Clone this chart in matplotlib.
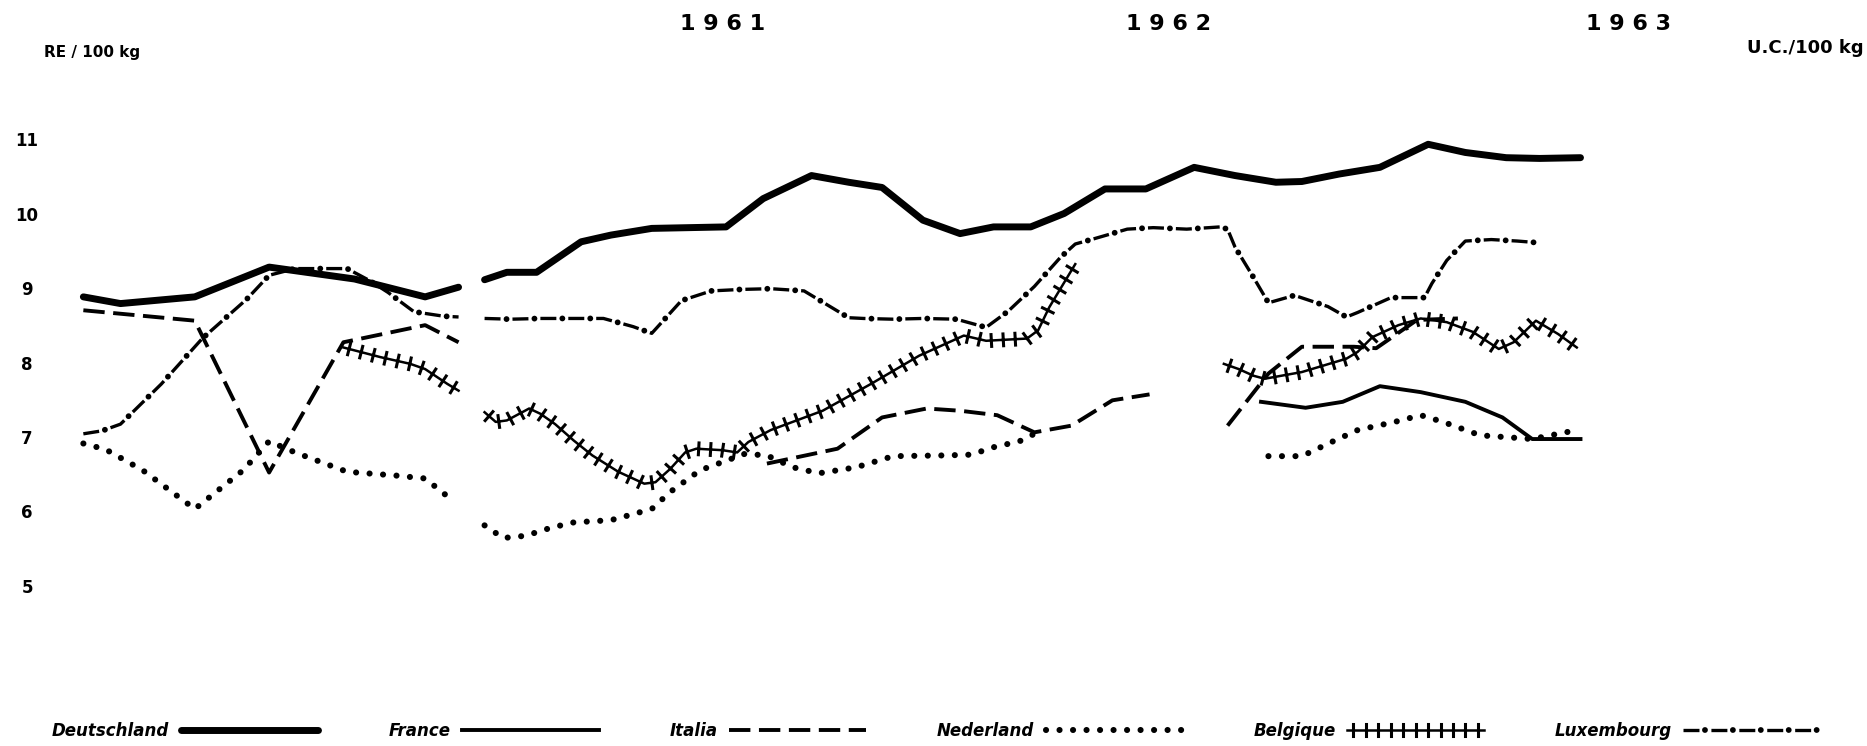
import numpy as np
import matplotlib
matplotlib.use("Agg")
import matplotlib.pyplot as plt
import matplotlib.patheffects as pe
import matplotlib.transforms as mtransforms
from matplotlib.legend_handler import HandlerTuple

nan = np.nan

# months counted from the first observation, values in RE (U.C.) per 100 kg
de_month = [0.0, 1.0, 3.0, 5.0, 7.3, 9.2, 10.1, nan,
            10.8, 11.4, 12.2, 13.4, 14.2, 15.3, 17.3, 18.3, 19.6, 20.6, 21.5, 22.6,
            23.6, 24.5, 25.5, 26.4, 27.5, 28.6, 29.9, 31.0, 32.1, 32.8, 33.8, 34.9,
            36.2, 37.2, 38.3, 39.2, 40.3]
de_value = [8.91, 8.82, 8.91, 9.31, 9.15, 8.91, 9.04, nan,
            9.14, 9.24, 9.24, 9.65, 9.74, 9.83, 9.85, 10.23, 10.54, 10.45, 10.38, 9.94,
            9.76, 9.85, 9.85, 10.03, 10.36, 10.36, 10.65, 10.54, 10.45, 10.46, 10.56, 10.65,
            10.96, 10.85, 10.78, 10.77, 10.78]

fr_month = [31.7, 32.9, 33.9, 34.9, 36.0, 37.2, 38.2, 39.0, 40.3]
fr_value = [7.50, 7.42, 7.50, 7.71, 7.63, 7.50, 7.29, 7.00, 7.00]

it_month = [0.0, 3.0, 5.0, 7.0, 9.2, 10.1, nan,
            18.4, 20.3, 21.5, 22.7, 23.6, 24.6, 25.6, 26.6, 27.7, 28.7, nan,
            30.8, 31.9, 32.8, 34.2, 34.8, 35.9, 37.0]
it_value = [8.73, 8.59, 6.55, 8.30, 8.53, 8.30, nan,
            6.67, 6.87, 7.29, 7.41, 7.38, 7.32, 7.09, 7.18, 7.52, 7.60, nan,
            7.18, 7.88, 8.24, 8.24, 8.22, 8.60, 8.62]

nl_month = [0.0, 0.6, 1.6, 3.0, 4.3, 5.0, 5.7, 7.1, 8.4, 9.2, 10.0, nan,
            10.8, 11.3, 11.9, 12.6, 13.2, 14.2, 14.5, 15.3, 15.8, 16.6, 17.8, 18.4,
            19.1, 19.8, 20.8, 21.8, 23.2, 23.9, 24.5, 25.2, 25.6, nan,
            31.9, 32.8, 33.6, 34.3, 35.3, 36.0, 36.6, 37.6, 39.0, 40.2]
nl_value = [6.94, 6.86, 6.58, 6.06, 6.58, 6.97, 6.82, 6.56, 6.51, 6.47, 6.15, nan,
            5.84, 5.67, 5.70, 5.81, 5.88, 5.91, 5.95, 6.06, 6.29, 6.58, 6.80, 6.78,
            6.62, 6.54, 6.62, 6.77, 6.78, 6.79, 6.89, 6.97, 7.07, nan,
            6.77, 6.77, 6.96, 7.12, 7.23, 7.32, 7.23, 7.05, 7.00, 7.12]

be_month = [7.0, 8.0, 8.8, 9.2, 9.8, 10.1, nan,
            10.8, 11.1, 11.4, 12.0, 12.3, 12.7, 13.2, 13.7, 14.4, 15.1, 15.4, 15.8,
            16.2, 16.5, 17.2, 17.6, 17.9, 18.5, 19.9, 21.2, 22.5, 23.7, 24.3, 25.4,
            25.7, 26.0, 26.7, nan,
            30.7, 31.1, 31.5, 31.8, 32.8, 34.0, 34.3, 34.7, 35.4, 36.0, 36.7, 37.4,
            38.1, 38.5, 39.1, 39.7, 40.2]
be_value = [8.23, 8.10, 8.01, 7.94, 7.74, 7.65, nan,
            7.36, 7.23, 7.25, 7.41, 7.34, 7.20, 6.98, 6.78, 6.56, 6.40, 6.42, 6.60,
            6.82, 6.87, 6.85, 6.82, 6.96, 7.12, 7.38, 7.74, 8.12, 8.39, 8.32, 8.35,
            8.46, 8.77, 9.35, nan,
            8.01, 7.94, 7.85, 7.81, 7.90, 8.08, 8.17, 8.37, 8.53, 8.62, 8.57, 8.44,
            8.21, 8.30, 8.59, 8.41, 8.23]

lu_month = [0.0, 0.5, 1.0, 2.1, 3.2, 4.4, 5.0, 5.7, 6.3, 7.1, 7.7, 8.2, 8.9, 9.7, 10.1, nan,
            10.8, 11.5, 12.3, 13.1, 14.0, 14.8, 15.3, 16.1, 16.9, 17.7, 18.5, 19.4,
            20.1, 20.6, 21.0, 21.8, 22.6, 23.5, 24.3, 24.9, 25.6, 26.3, 26.7, 27.2,
            28.1, 28.8, 29.7, 30.6, 30.8, 31.0, 31.5, 31.9, 32.6, 33.5, 34.0, 34.3,
            35.2, 36.1, 36.3, 36.7, 37.2, 37.9, 38.6, 39.1]
lu_value = [7.07, 7.11, 7.20, 7.74, 8.35, 8.88, 9.20, 9.29, 9.29, 9.29, 9.13, 8.97, 8.71, 8.65, 8.64, nan,
            8.62, 8.61, 8.62, 8.62, 8.62, 8.51, 8.42, 8.86, 8.99, 9.01, 9.02, 8.99,
            8.78, 8.63, 8.62, 8.61, 8.62, 8.61, 8.50, 8.72, 9.05, 9.44, 9.62, 9.69,
            9.82, 9.84, 9.82, 9.85, 9.82, 9.58, 9.17, 8.83, 8.93, 8.78, 8.64, 8.70,
            8.90, 8.90, 9.09, 9.40, 9.66, 9.68, 9.66, 9.64]

y_ticks = [11, 10, 9, 8, 7, 6, 5]
years = ["1 9 6 1", "1 9 6 2", "1 9 6 3"]
year_month = [17.2, 29.2, 41.6]

# pixel layout of the sheet
W, H = 1867, 746
x0_px, px_month = 83.35, 37.15
y8_px, px_unit = 364.6, 74.43


def pieces(xs, ys):
    # split a series at its nan gaps
    xs, ys = np.asarray(xs, float), np.asarray(ys, float)
    cut = np.where(np.isnan(xs))[0]
    out = []
    for a, b in zip(np.split(xs, cut), np.split(ys, cut)):
        ok = ~np.isnan(a)
        out.append((a[ok], b[ok]))
    return out


fig = plt.figure(figsize=(W / 100, H / 100), dpi=100)
ax = fig.add_axes([0, 0, 1, 1])
ax.axis("off")
ax.set_xlim(-x0_px / px_month, (W - x0_px) / px_month)
ax.set_ylim(8 - (H - y8_px) / px_unit, 8 + y8_px / px_unit)

k = "black"
l_de, = ax.plot(de_month, de_value, color=k, lw=5, solid_joinstyle="round",
                solid_capstyle="round", label="Deutschland")
l_fr, = ax.plot(fr_month, fr_value, color=k, lw=2.8, solid_joinstyle="round",
                label="France")
l_it, = ax.plot(it_month, it_value, color=k, lw=2.8, linestyle=(0, (5.5, 2.2)),
                label="Italia")
l_nl, = ax.plot(nl_month, nl_value, color=k, lw=4.4, linestyle=(0, (0.01, 2.2)),
                dash_capstyle="round", label="Nederland")

# Belgique is drawn as a chain of crosses following the curve
be_fx = [pe.TickedStroke(spacing=8.5, angle=90, length=0.5, linewidth=2.2),
         pe.TickedStroke(spacing=8.5, angle=-90, length=0.5, linewidth=2.2),
         pe.Normal()]
be_lines = []
for xs, ys in pieces(be_month, be_value):
    ln, = ax.plot(xs, ys, color=k, lw=1.8, path_effects=be_fx)
    be_lines.append(ln)
l_be = be_lines[0]

# Luxembourg: dashes with a heavier dot set into each gap
dash_lw, dot_lw = 2.4, 4.2
dash_on, dash_off = 11.5, 8.6          # points
period = dash_on + dash_off
lu_dash, lu_dot = None, None
for xs, ys in pieces(lu_month, lu_value):
    a, = ax.plot(xs, ys, color=k, lw=dash_lw, dash_capstyle="butt",
                 linestyle=(0, (dash_on / dash_lw, dash_off / dash_lw)))
    b, = ax.plot(xs, ys, color=k, lw=dot_lw, dash_capstyle="round",
                 linestyle=((period - dash_on - dash_off / 2) / dot_lw,
                            (0.01, period / dot_lw - 0.01)))
    if lu_dash is None:
        lu_dash, lu_dot = a, b

# y labels on the left margin
tr = mtransforms.blended_transform_factory(fig.transFigure, ax.transData)
for v in y_ticks:
    ax.text(27 / W, v, str(v), transform=tr, ha="center", va="center",
            fontsize=12, fontweight="bold")

# year headings along the top
tr_top = mtransforms.blended_transform_factory(ax.transData, fig.transFigure)
for m, lab in zip(year_month, years):
    ax.text(m, 1 - 24 / H, lab, transform=tr_top, ha="center", va="center",
            fontsize=16, fontweight="bold")

fig.text(44 / W, 1 - 52 / H, "RE / 100 kg", ha="left", va="center",
         fontsize=11, fontweight="bold")
fig.text(1864 / W, 1 - 48 / H, "U.C./100 kg", ha="right", va="center",
         fontsize=13, fontweight="bold")

ax.legend(handles=[l_de, l_fr, l_it, l_nl, l_be, (lu_dash, lu_dot)],
          labels=["Deutschland", "France", "Italia", "Nederland", "Belgique", "Luxembourg"],
          handler_map={tuple: HandlerTuple(ndivide=1)},
          loc="center left",
          bbox_to_anchor=(52 / W, 1 - 731 / H), bbox_transform=fig.transFigure,
          ncol=6, frameon=False, markerfirst=False, handlelength=8.2,
          handletextpad=0.7, columnspacing=4.25, borderpad=0, borderaxespad=0,
          prop=dict(weight="bold", style="italic", size=12))

fig.savefig("out.png", dpi=100, facecolor="white")
